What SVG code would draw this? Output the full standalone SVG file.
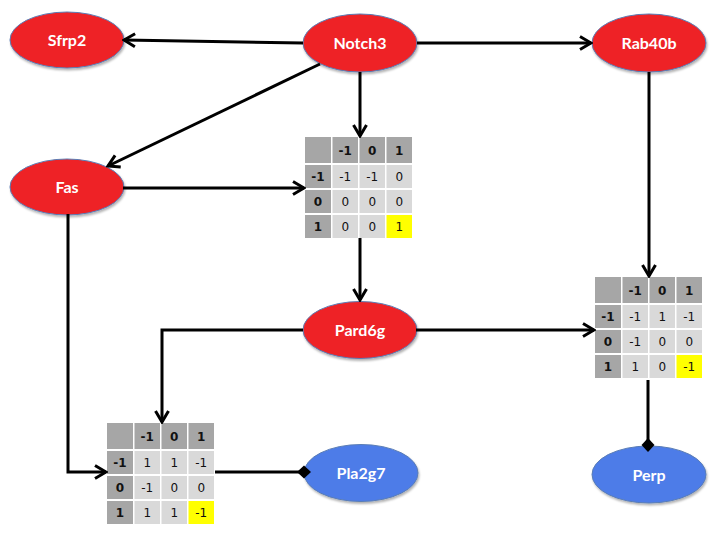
<svg xmlns="http://www.w3.org/2000/svg" width="720" height="540" viewBox="0 0 720 540">
<style>
.red{fill:#EE2227;stroke:#5A7DB5;stroke-width:1}
.blue{fill:#4D7CE8;stroke:#5A7DB5;stroke-width:1}
.lbl{font-family:Lato,"Liberation Sans",sans-serif;font-weight:bold;font-size:16px;fill:#fff;text-anchor:middle}
.conn{fill:none;stroke:#000;stroke-width:3}
.hd{fill:#A6A6A6}
.bd{fill:#D9D9D9}
.hl{fill:#FFFF00}
.tt{font-family:"DejaVu Sans",Verdana,sans-serif;font-size:12px;fill:#111;text-anchor:middle}
.tb{font-weight:bold}
</style>
<defs>
<filter id="sh" x="-20%" y="-20%" width="140%" height="160%">
<feDropShadow dx="1" dy="2" stdDeviation="1.2" flood-color="#000" flood-opacity="0.3"/>
</filter>
<marker id="arr" viewBox="0 0 16 16" refX="14" refY="8" markerWidth="16" markerHeight="16" markerUnits="userSpaceOnUse" orient="auto">
<path d="M3,1.5 L14,8 L3,14.5" fill="none" stroke="#000" stroke-width="3"/>
</marker>
<marker id="dia" viewBox="0 0 14 14" refX="7" refY="7" markerWidth="14" markerHeight="14" markerUnits="userSpaceOnUse" orient="auto">
<path d="M0,7 L7,0.5 L14,7 L7,13.5 Z" fill="#000"/>
</marker>
<g id="tcells">
<rect class="hd" x="0" y="0" width="26" height="26"/>
<rect class="hd" x="27.5" y="0" width="25.5" height="26"/>
<rect class="hd" x="54.5" y="0" width="25.5" height="26"/>
<rect class="hd" x="81.5" y="0" width="25.5" height="26"/>
<rect class="hd" x="0" y="28" width="26" height="23"/>
<rect class="hd" x="0" y="53" width="26" height="23"/>
<rect class="hd" x="0" y="78" width="26" height="23"/>
<rect class="bd" x="27.5" y="28" width="25.5" height="23"/>
<rect class="bd" x="54.5" y="28" width="25.5" height="23"/>
<rect class="bd" x="81.5" y="28" width="25.5" height="23"/>
<rect class="bd" x="27.5" y="53" width="25.5" height="23"/>
<rect class="bd" x="54.5" y="53" width="25.5" height="23"/>
<rect class="bd" x="81.5" y="53" width="25.5" height="23"/>
<rect class="bd" x="27.5" y="78" width="25.5" height="23"/>
<rect class="bd" x="54.5" y="78" width="25.5" height="23"/>
<rect class="hl" x="81.5" y="78" width="25.5" height="23"/>
<g class="tt tb">
<text x="40.25" y="17.5">-1</text><text x="67.25" y="17.5">0</text><text x="94.25" y="17.5">1</text>
<text x="13" y="44">-1</text><text x="13" y="69">0</text><text x="13" y="94">1</text>
</g>
</g>
</defs>

<g id="Sfrp2"><ellipse class="red" cx="67" cy="40" rx="57" ry="28" filter="url(#sh)"/><text class="lbl" x="67" y="46">Sfrp2</text></g>
<g id="Notch3"><ellipse class="red" cx="360" cy="43" rx="57" ry="29" filter="url(#sh)"/><text class="lbl" x="360" y="49">Notch3</text></g>
<g id="Rab40b"><ellipse class="red" cx="649" cy="43" rx="57" ry="29" filter="url(#sh)"/><text class="lbl" x="649" y="49">Rab40b</text></g>
<g id="Fas"><ellipse class="red" cx="67" cy="187" rx="57" ry="28" filter="url(#sh)"/><text class="lbl" x="67" y="193">Fas</text></g>
<g id="Pard6g"><ellipse class="red" cx="360" cy="330" rx="57" ry="28.5" filter="url(#sh)"/><text class="lbl" x="360" y="336">Pard6g</text></g>
<g id="Pla2g7"><ellipse class="blue" cx="361" cy="473" rx="57" ry="28.5" filter="url(#sh)"/><text class="lbl" x="361" y="479">Pla2g7</text></g>
<g id="Perp"><ellipse class="blue" cx="649" cy="474.5" rx="57" ry="28.5" filter="url(#sh)"/><text class="lbl" x="649" y="480.5">Perp</text></g>

<g id="table1" transform="translate(305,137)">
<use href="#tcells"/>
<g class="tt">
<text x="40.25" y="44">-1</text><text x="67.25" y="44">-1</text><text x="94.25" y="44">0</text>
<text x="40.25" y="69">0</text><text x="67.25" y="69">0</text><text x="94.25" y="69">0</text>
<text x="40.25" y="94">0</text><text x="67.25" y="94">0</text><text x="94.25" y="94">1</text>
</g>
</g>

<g id="table2" transform="translate(595,277)">
<use href="#tcells"/>
<g class="tt">
<text x="40.25" y="44">-1</text><text x="67.25" y="44">1</text><text x="94.25" y="44">-1</text>
<text x="40.25" y="69">-1</text><text x="67.25" y="69">0</text><text x="94.25" y="69">0</text>
<text x="40.25" y="94">1</text><text x="67.25" y="94">0</text><text x="94.25" y="94">-1</text>
</g>
</g>

<g id="table3" transform="translate(107,423)">
<use href="#tcells"/>
<g class="tt">
<text x="40.25" y="44">1</text><text x="67.25" y="44">1</text><text x="94.25" y="44">-1</text>
<text x="40.25" y="69">-1</text><text x="67.25" y="69">0</text><text x="94.25" y="69">0</text>
<text x="40.25" y="94">1</text><text x="67.25" y="94">1</text><text x="94.25" y="94">-1</text>
</g>
</g>

<g id="connectors">
<path class="conn" d="M303,43 L124,40" marker-end="url(#arr)"/>
<path class="conn" d="M417,43 L591,43" marker-end="url(#arr)"/>
<path class="conn" d="M320,64 L108,166" marker-end="url(#arr)"/>
<path class="conn" d="M360,72 L360,136" marker-end="url(#arr)"/>
<path class="conn" d="M123,188 L304,188" marker-end="url(#arr)"/>
<path class="conn" d="M360,238 L360,300" marker-end="url(#arr)"/>
<path class="conn" d="M649,72 L649,276" marker-end="url(#arr)"/>
<path class="conn" d="M416,330 L594,330" marker-end="url(#arr)"/>
<path class="conn" d="M303,330 L162,330 L162,422" marker-end="url(#arr)"/>
<path class="conn" d="M68,214 L68,472 L106,472" marker-end="url(#arr)"/>
<path class="conn" d="M215,472 L304,472" marker-end="url(#dia)"/>
<path class="conn" d="M648,380 L648,445" marker-end="url(#dia)"/>
</g>
</svg>
